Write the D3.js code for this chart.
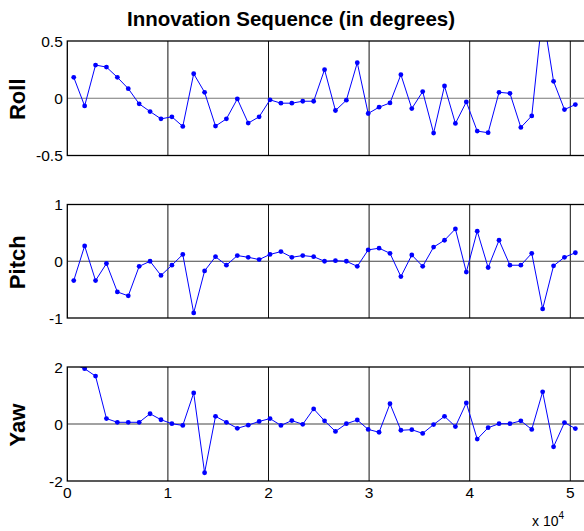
<!DOCTYPE html>
<html>
<head>
<meta charset="utf-8">
<script src="https://cdn.jsdelivr.net/npm/d3@7"></script>
<style>
  body { margin: 0; background: #fff; }
  svg { display: block; font-family: "Liberation Sans", Arial, sans-serif; }
</style>
</head>
<body>
<div id="chart"></div>
<script>
const sampleTimes = [640, 1724, 2808, 3892, 4976, 6060, 7144, 8228, 9312, 10396,
  11480, 12564, 13648, 14732, 15816, 16900, 17984, 19068, 20152, 21236,
  22320, 23404, 24488, 25572, 26656, 27740, 28824, 29908, 30992, 32076,
  33160, 34244, 35328, 36412, 37496, 38580, 39664, 40748, 41832, 42916,
  44000, 45084, 46168, 47252, 48336, 49420, 50504];

const rollValues = [0.183, -0.067, 0.29, 0.272, 0.183, 0.084, -0.049, -0.116, -0.18, -0.162,
  -0.246, 0.214, 0.052, -0.243, -0.18, -0.006, -0.217, -0.162, -0.014, -0.043,
  -0.043, -0.026, -0.026, 0.25, -0.107, -0.017, 0.31, -0.133, -0.078, -0.041,
  0.206, -0.09, 0.058, -0.304, 0.107, -0.22, -0.032, -0.287, -0.301, 0.052,
  0.043, -0.255, -0.154, 0.75, 0.148, -0.099, -0.055];

const pitchValues = [-0.34, 0.27, -0.34, -0.04, -0.54, -0.61, -0.09, 0.0, -0.25, -0.07,
  0.12, -0.91, -0.17, 0.08, -0.07, 0.10, 0.07, 0.03, 0.12, 0.17,
  0.07, 0.10, 0.08, 0.0, 0.01, 0.0, -0.09, 0.20, 0.23, 0.14,
  -0.27, 0.11, -0.09, 0.25, 0.37, 0.57, -0.19, 0.53, -0.11, 0.37,
  -0.07, -0.07, 0.14, -0.84, -0.08, 0.07, 0.15];

const yawValues = [2.1, 1.94, 1.68, 0.19, 0.06, 0.06, 0.06, 0.36, 0.15, 0.01,
  -0.05, 1.09, -1.71, 0.27, 0.06, -0.15, -0.04, 0.09, 0.19, -0.05,
  0.12, -0.01, 0.53, 0.11, -0.26, 0.01, 0.14, -0.19, -0.29, 0.71,
  -0.22, -0.20, -0.33, -0.02, 0.27, -0.09, 0.74, -0.53, -0.13, 0.01,
  0.01, 0.11, -0.19, 1.13, -0.80, 0.05, -0.16];

const xTicks = [0, 10000, 20000, 30000, 40000, 50000];
const xTickLabels = ["0", "1", "2", "3", "4", "5"];
const rollTicks = [-0.5, 0, 0.5];
const rollTickLabels = ["-0.5", "0", "0.5"];
const pitchTicks = [-1, 0, 1];
const pitchTickLabels = ["-1", "0", "1"];
const yawTicks = [-2, 0, 2];
const yawTickLabels = ["-2", "0", "2"];

const W = 584, H = 531;
const left = 67.3;

let svg = d3.select("#chart").append("svg")
  .attr("width", W)
  .attr("height", H);

// x axis runs past the right edge of the picture (figure is cropped)
let x = d3.scaleLinear().domain([0, 55000]).range([left, left + 100.6 * 5.5]);

let panels = [
  {name: "Roll", values: rollValues, ticks: rollTicks, labels: rollTickLabels, top: 41, bottom: 155.5},
  {name: "Pitch", values: pitchValues, ticks: pitchTicks, labels: pitchTickLabels, top: 204.5, bottom: 318},
  {name: "Yaw", values: yawValues, ticks: yawTicks, labels: yawTickLabels, top: 367, bottom: 481},
];

svg.append("text")
  .attr("x", 291)
  .attr("y", 26)
  .attr("text-anchor", "middle")
  .style("font-size", "20.5px")
  .style("font-weight", "bold")
  .text("Innovation Sequence (in degrees)");

panels.forEach((p, i) => {
  let y = d3.scaleLinear()
    .domain([p.ticks[0], p.ticks[p.ticks.length - 1]])
    .range([p.bottom, p.top]);
  let right = x.range()[1];

  let g = svg.append("g");

  g.append("clipPath").attr("id", "clip" + i)
    .append("rect")
    .attr("x", left).attr("y", p.top)
    .attr("width", right - left).attr("height", p.bottom - p.top);

  // vertical grid lines
  g.selectAll(".vgrid").data(xTicks.slice(1)).join("line")
    .attr("x1", d => x(d)).attr("x2", d => x(d))
    .attr("y1", p.top).attr("y2", p.bottom)
    .attr("stroke", "#111").attr("stroke-width", 1);

  // horizontal grid line at 0
  g.selectAll(".hgrid").data(p.ticks.slice(1, -1)).join("line")
    .attr("x1", left).attr("x2", right)
    .attr("y1", d => y(d)).attr("y2", d => y(d))
    .attr("stroke", i == 0 ? "#777" : "#444").attr("stroke-width", 1.2);

  let pts = sampleTimes.map((t, k) => [t, p.values[k]]);
  let plot = g.append("g").attr("clip-path", `url(#clip${i})`);
  plot.append("path")
    .datum(pts)
    .attr("fill", "none")
    .attr("stroke", "#0000ff")
    .attr("stroke-width", 1)
    .attr("d", d3.line().x(d => x(d[0])).y(d => y(d[1])));
  plot.selectAll("circle").data(pts).join("circle")
    .attr("cx", d => x(d[0]))
    .attr("cy", d => y(d[1]))
    .attr("r", 2.4)
    .attr("fill", "#0000ff");

  // frame
  g.append("rect")
    .attr("x", left).attr("y", p.top)
    .attr("width", right - left).attr("height", p.bottom - p.top)
    .attr("fill", "none").attr("stroke", "#000").attr("stroke-width", 1.3);

  // y tick labels
  g.selectAll(".ylab").data(p.ticks).join("text")
    .attr("x", left - 4.5)
    .attr("y", d => y(d) + 5.6)
    .attr("text-anchor", "end")
    .style("font-size", "15.5px")
    .text((d, k) => p.labels[k]);

  g.append("text")
    .attr("transform", `translate(25, ${(p.top + p.bottom) / 2 + 1}) rotate(-90)`)
    .attr("text-anchor", "middle")
    .style("font-size", "22px")
    .style("font-weight", "bold")
    .text(p.name);

  if (i == panels.length - 1) {
    g.selectAll(".xlab").data(xTicks).join("text")
      .attr("x", d => x(d))
      .attr("y", p.bottom + 17)
      .attr("text-anchor", "middle")
      .style("font-size", "15.5px")
      .text((d, k) => xTickLabels[k]);
  }
});

let expo = svg.append("text")
  .attr("x", 532)
  .attr("y", 526)
  .style("font-size", "14px");
expo.append("tspan").text("x 10");
expo.append("tspan").attr("dy", -7).style("font-size", "10px").text("4");
</script>
</body>
</html>
